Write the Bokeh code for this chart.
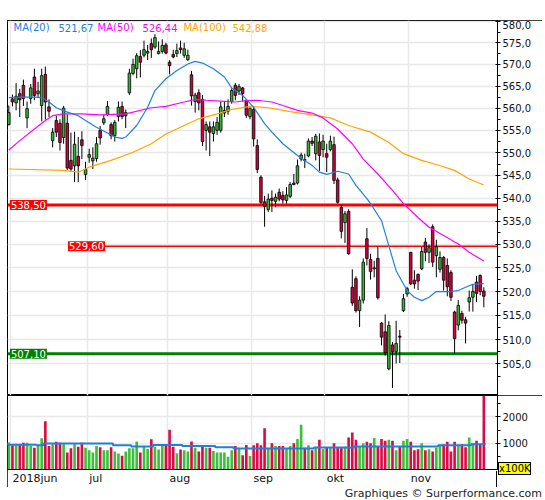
from bokeh.plotting import figure
from bokeh.models import (Range1d, FixedTicker, CustomJSTickFormatter, Label, Grid, Div)
from bokeh.layouts import column
from bokeh.embed import file_html
from bokeh.resources import INLINE

# ---------------- data ----------------
opens = [556.3, 562.1, 561.2, 563.3, 565.2, 557.8, 562.2, 567.1, 563.3, 560.6,
         567.7, 560.3, 552.7, 557.2, 556.6, 553.4, 556.6, 548.3, 547.1, 549.2,
         552.9, 545.2, 549.0, 548.2, 548.7, 555.0, 556.7, 558.6, 556.3, 553.8,
         558.1, 560.4, 558.3, 563.5, 567.9, 569.0, 571.8, 572.1, 572.6, 574.8,
         574.0, 572.5, 573.0, 574.5, 570.5, 572.3, 572.5, 573.8, 572.1, 571.1,
         567.6, 561.5, 563.5, 562.0, 555.0, 555.8, 554.3, 555.0, 555.0, 558.9,
         559.3, 561.5, 565.2, 563.9, 564.6, 561.8, 558.1, 559.7, 551.6, 544.6,
         539.2, 537.5, 540.0, 539.3, 541.3, 540.6, 539.5, 540.4, 543.3, 543.3,
         548.6, 548.5, 549.3, 552.6, 549.8, 552.4, 550.7, 549.8, 550.7, 551.8,
         544.0, 538.0, 534.7, 537.1, 520.9, 522.7, 516.0, 518.2, 531.2, 526.8,
         524.8, 527.0, 513.4, 511.6, 504.0, 508.9, 507.5, 510.7, 516.0, 519.5,
         528.3, 522.4, 523.6, 524.8, 530.5, 528.3, 533.8, 527.6, 524.7, 527.2,
         525.5, 524.0, 515.7, 513.0, 515.4, 514.1, 517.8, 518.8, 522.0, 523.4,
         520.1]
highs = [560.6, 563.1, 565.7, 564.4, 566.5, 561.5, 565.5, 569.0, 566.0, 569.0,
         569.5, 562.0, 555.5, 558.3, 557.5, 560.5, 558.6, 554.5, 554.7, 553.5,
         554.8, 548.0, 550.9, 551.2, 553.5, 556.0, 558.5, 561.6, 556.8, 557.3,
         561.5, 561.5, 559.7, 569.0, 571.3, 572.6, 573.3, 575.5, 574.5, 576.0,
         577.0, 575.3, 575.8, 575.0, 571.0, 573.4, 574.8, 575.5, 575.0, 573.4,
         568.5, 563.5, 564.3, 563.0, 557.0, 557.0, 557.0, 558.0, 561.5, 561.5,
         562.0, 564.5, 565.7, 565.5, 564.8, 562.0, 560.5, 560.5, 553.0, 545.0,
         540.5, 541.0, 541.7, 541.0, 542.1, 541.5, 542.4, 543.5, 545.3, 548.5,
         550.0, 549.8, 553.2, 553.5, 554.2, 554.3, 554.0, 552.0, 553.8, 553.6,
         544.5, 538.6, 537.2, 537.6, 524.7, 523.2, 519.0, 527.0, 533.5, 528.0,
         526.5, 529.5, 513.6, 515.2, 513.8, 509.5, 513.9, 512.0, 519.5, 521.0,
         528.4, 524.5, 523.8, 529.5, 531.4, 530.0, 534.3, 531.0, 528.5, 527.5,
         527.0, 524.5, 516.0, 518.2, 516.0, 514.7, 520.2, 521.5, 523.3, 523.6,
         520.9]
lows = [556.1, 560.4, 559.5, 558.0, 560.5, 555.5, 561.0, 561.8, 562.5, 557.0,
        557.4, 558.0, 551.2, 553.5, 550.5, 552.0, 546.2, 545.8, 543.5, 543.5,
        548.6, 544.0, 547.8, 546.4, 548.0, 551.8, 556.2, 558.2, 553.0, 552.5,
        557.0, 557.5, 555.5, 563.0, 567.5, 566.8, 567.0, 571.6, 571.0, 571.5,
        573.6, 572.3, 572.5, 572.3, 567.7, 571.4, 571.7, 572.5, 571.5, 570.8,
        560.6, 559.0, 559.5, 551.5, 550.5, 549.3, 552.5, 554.0, 554.5, 558.0,
        558.5, 561.0, 561.8, 563.0, 561.5, 557.8, 557.5, 551.4, 545.5, 538.7,
        533.8, 537.0, 537.0, 538.0, 539.3, 538.8, 538.8, 540.0, 542.8, 543.0,
        548.1, 546.6, 549.0, 551.5, 548.3, 546.0, 549.0, 545.7, 550.3, 543.1,
        538.8, 531.3, 530.3, 527.8, 517.0, 515.6, 512.6, 517.5, 525.5, 522.5,
        523.0, 518.3, 508.8, 506.7, 503.7, 500.1, 505.1, 505.2, 515.7, 518.9,
        521.4, 520.6, 520.3, 524.5, 526.4, 526.0, 525.2, 523.0, 524.0, 520.2,
        519.0, 518.0, 507.1, 511.9, 513.3, 509.2, 515.8, 515.8, 517.8, 519.2,
        516.7]
closes = [559.0, 561.4, 562.7, 561.9, 562.2, 559.9, 564.6, 562.9, 563.9, 567.4,
          561.4, 559.3, 554.6, 554.6, 552.3, 560.0, 546.6, 546.4, 551.9, 547.1,
          551.6, 546.3, 549.6, 548.8, 552.0, 553.3, 557.6, 560.4, 553.8, 556.8,
          560.2, 558.1, 559.0, 568.0, 570.0, 572.0, 570.5, 573.4, 573.0, 573.4,
          576.2, 573.0, 574.4, 572.6, 569.7, 571.7, 573.2, 573.4, 573.6, 572.1,
          562.8, 563.0, 561.2, 552.5, 556.3, 554.6, 555.8, 556.8, 560.3, 559.5,
          560.4, 564.0, 562.9, 564.9, 563.3, 558.4, 559.9, 553.1, 546.3, 539.1,
          538.2, 539.8, 539.5, 540.2, 539.8, 539.6, 540.7, 543.0, 543.0, 547.1,
          549.5, 548.3, 552.6, 552.1, 553.7, 549.4, 552.6, 549.0, 552.6, 543.9,
          539.1, 532.8, 536.6, 528.0, 517.6, 516.0, 518.2, 526.2, 527.0, 524.2,
          525.0, 518.7, 510.5, 507.3, 512.9, 507.5, 509.2, 510.5, 518.5, 520.6,
          521.6, 521.6, 522.2, 528.5, 528.3, 529.3, 526.2, 529.5, 527.2, 522.4,
          521.0, 518.8, 510.2, 517.1, 514.0, 513.4, 518.7, 520.0, 519.6, 520.0,
          519.0]
volumes = [1027, 919, 973, 946, 1014, 1014, 892, 824, 932, 1189,
           1838, 892, 959, 1054, 1014, 959, 649, 811, 959, 865,
           1014, 824, 730, 649, 892, 851, 730, 730, 851, 689,
           608, 527, 689, 811, 811, 1068, 649, 878, 784, 1149,
           865, 757, 919, 919, 1514, 865, 622, 757, 730, 689,
           1068, 824, 689, 865, 824, 824, 703, 649, 649, 649,
           486, 730, 892, 824, 541, 932, 514, 919, 1000, 919,
           1568, 824, 1000, 892, 892, 892, 784, 892, 1000, 1162,
           1703, 824, 919, 730, 824, 1135, 784, 824, 824, 1000,
           824, 824, 865, 1216, 1405, 1135, 892, 1000, 1054, 1000,
           1203, 892, 1162, 1095, 1135, 1095, 730, 865, 1095, 1162,
           1054, 730, 770, 1000, 730, 770, 689, 824, 892, 959,
           1054, 689, 1054, 919, 959, 851, 1216, 1000, 1095, 959,
           3200]

ma20_idx = [0, 3, 7, 9, 11, 13, 16, 19, 21, 24, 27, 29, 31, 32, 35, 38, 40, 43, 46, 49,
            51, 53, 56, 59, 61, 64, 67, 70, 72, 75, 79, 83, 85, 87, 90, 93, 95, 98, 99,
            102, 104, 106, 109, 111, 113, 115, 117, 121, 123, 125, 127, 130]
ma20_val = [562.4, 562.5, 562.5, 562.4, 561.4, 560.1, 559.1, 558.3, 557.2, 555.7, 554.4,
            553.5, 553.2, 553.5, 556.1, 560.2, 564.0, 566.7, 568.6, 570.1, 570.7, 570.3,
            569.0, 567.1, 564.6, 562.9, 560.2, 556.5, 554.6, 552.0, 549.4, 547.2, 545.7,
            545.2, 545.9, 545.3, 542.8, 539.9, 538.8, 535.1, 529.7, 524.4, 520.2, 518.8,
            518.1, 518.8, 520.0, 520.0, 520.2, 520.9, 521.5, 521.67]
ma50_idx = [0, 3, 7, 10, 12, 15, 20, 25, 32, 39, 43, 48, 51, 54, 58, 62, 65, 68, 72, 75,
            79, 83, 86, 90, 94, 97, 101, 105, 108, 112, 115, 119, 123, 126, 130]
ma50_val = [550.6, 552.7, 555.3, 557.2, 558.3, 558.7, 558.7, 558.5, 558.7, 560.1, 560.4,
            561.4, 562.0, 561.8, 561.6, 561.4, 561.7, 561.8, 561.4, 560.6, 559.5, 558.9,
            557.8, 555.3, 552.0, 548.6, 545.3, 541.7, 538.8, 535.8, 533.7, 531.9, 530.1,
            528.3, 526.44]
ma100_idx = [0, 15, 19, 22, 28, 34, 39, 43, 48, 52, 57, 61, 66, 71, 77, 82, 88, 93, 99,
             104, 108, 113, 117, 122, 126, 130]
ma100_val = [546.4, 546.1, 545.7, 546.8, 548.3, 550.1, 552.0, 554.2, 556.1, 557.6, 558.7,
             559.7, 560.4, 560.1, 559.2, 558.6, 557.8, 556.1, 554.6, 552.3, 549.8, 548.3,
             547.4, 546.1, 544.2, 542.88]

vol_ma_start = [0, 8, 10, 29, 34, 40, 48, 57, 62, 84, 95, 118, 127]
vol_ma_val = [946, 919, 986, 919, 878, 932, 892, 851, 797, 838, 878, 919, 959]

month_start_idx = [0, 21, 43, 66, 86, 109]
month_labels = ["2018jun", "jul", "aug", "sep", "okt", "nov"]

price_ticks = [505, 510, 515, 520, 525, 530, 535, 540, 545, 550, 555, 560, 565, 570, 575, 580]
vol_ticks = [1000, 2000]
vol_minor_ticks = [500, 1500, 2500]

levels = [538.5, 529.6, 507.1]
level_texts = ["538,50", "529,60", "507,10"]
legend_texts = ["MA(20)", "521,67", "MA(50)", "526,44", "MA(100)", "542,88"]

# ---------------- styling ----------------
FONT = "DejaVu Sans"
C_UP, C_DN = "#33b533", "#d4003c"
V_UP, V_DN = "#3cc03c", "#dc0a47"
C_MA20, C_MA50, C_MA100 = "#1f80dc", "#ff00ff", "#ffa500"
GRID = "#e8e8e8"
PX_PER_DAY = 3.654

n = len(closes)
idx = list(range(n))
up = [c >= o for o, c in zip(opens, closes)]
body_top = [max(o, c) for o, c in zip(opens, closes)]
body_bot = [min(o, c) for o, c in zip(opens, closes)]
body_col = [C_UP if u else C_DN for u in up]
vol_col = [V_UP if u else V_DN for u in up]
month_pos = [m + 0.45 for m in month_start_idx]

# axis labels are centred by Bokeh; shift each so its left edge sits just right of its gridline
CHAR_W = {"0": 7.0, "1": 7.0, "2": 7.0, "8": 7.0, "j": 3.05, "u": 6.97, "n": 6.97,
          "l": 3.05, "a": 6.74, "g": 6.97, "s": 5.73, "e": 6.77, "p": 6.97, "o": 6.73,
          "k": 6.37, "t": 4.31, "v": 6.51}
label_w = [sum(CHAR_W.get(ch, 6.5) for ch in lab) for lab in month_labels]
label_pos = [p + (2.0 + w / 2) / PX_PER_DAY for p, w in zip(month_pos, label_w)]

xr = Range1d(-0.356, 133.74)
box = {"outline": "1px solid #000", "outline-offset": "-1px"}

# ---------------- price panel ----------------
pA = figure(width=535, height=375, x_range=xr, y_range=Range1d(498.6, 580.2),
            y_axis_type="log", y_axis_location="right", x_axis_location=None,
            output_backend="svg", toolbar_location=None, margin=(20, 0, 0, 7),
            min_border_left=0, min_border_right=45, min_border_top=0, min_border_bottom=0,
            outline_line_color="black", styles=box)
ya = pA.yaxis[0]
ya.ticker = FixedTicker(ticks=price_ticks, minor_ticks=[t - 2.5 for t in price_ticks])
ya.formatter = CustomJSTickFormatter(code="return tick.toFixed(1).replace('.', ',');")
ya.major_label_text_font = FONT
ya.major_label_text_font_size = "10px"
ya.major_label_text_color = "#111111"
ya.major_tick_in = 2
ya.major_tick_out = 3
ya.minor_tick_in = 0
ya.minor_tick_out = 3
ya.major_label_standoff = 2
ya.axis_line_color = "black"
for g in pA.ygrid:
    g.grid_line_color = GRID
    g.grid_line_width = 1.5
for g in pA.xgrid:
    g.visible = False
pA.add_layout(Grid(dimension=0, ticker=FixedTicker(ticks=month_pos),
                   grid_line_color=GRID, grid_line_width=1.5))

# support / resistance lines
pA.segment(x0=[xr.start, 20.0, xr.start], y0=levels, x1=[xr.end] * 3, y1=levels,
           line_color=["#ff0000", "#ff0000", "#008000"], line_width=[3, 1.3, 3])

# candles
pA.segment(x0=idx, y0=lows, x1=idx, y1=highs, line_color="black", line_width=1)
pA.vbar(x=idx, width=0.7, top=body_top, bottom=body_bot, fill_color=body_col,
        line_color="black", line_width=0.8)

# moving averages
pA.line(ma100_idx, ma100_val, line_color=C_MA100, line_width=1.2)
pA.line(ma50_idx, ma50_val, line_color=C_MA50, line_width=1.2)
pA.line(ma20_idx, ma20_val, line_color=C_MA20, line_width=1.2)

# level labels
lvl_x = [0.3, 16.2, 0.3]
lvl_bg = ["#ff0000", "#ff0000", "#008000"]
for x, y, t, bg in zip(lvl_x, levels, level_texts, lvl_bg):
    pA.add_layout(Label(x=x, y=y, text=t, text_color="white", text_font=FONT,
                        text_font_size="10px", text_baseline="middle", text_align="left",
                        background_fill_color=bg, padding=1))

# legend row
leg_x = [1.3, 13.6, 24.3, 36.6, 47.8, 61.2]
leg_c = [C_MA20, C_MA20, C_MA50, C_MA50, C_MA100, C_MA100]
for x, t, c in zip(leg_x, legend_texts, leg_c):
    pA.add_layout(Label(x=x, y=578.56, text=t, text_color=c, text_font=FONT,
                        text_font_size="10px", text_baseline="middle", text_align="left"))

# ---------------- volume panel ----------------
pB = figure(width=535, height=92, x_range=xr, y_range=Range1d(0, 2815),
            y_axis_location="right", output_backend="svg", toolbar_location=None,
            margin=(0, 0, 0, 7),
            min_border_left=0, min_border_right=45, min_border_top=0, min_border_bottom=16,
            outline_line_color="black", styles=box)
pB.vbar(x=idx, top=volumes, width=0.72, fill_color=vol_col, line_color=None)
step_x = [s - 0.5 for s in vol_ma_start] + [n - 0.5]
step_y = vol_ma_val + [vol_ma_val[-1]]
pB.step(step_x, step_y, mode="after", line_color=C_MA20, line_width=2)

yb = pB.yaxis[0]
yb.ticker = FixedTicker(ticks=vol_ticks, minor_ticks=vol_minor_ticks)
yb.major_label_text_font = FONT
yb.major_label_text_font_size = "10px"
yb.major_label_text_color = "#111111"
yb.major_tick_in = 2
yb.major_tick_out = 3
yb.minor_tick_in = 0
yb.minor_tick_out = 3
yb.major_label_standoff = 2
yb.axis_line_color = "black"

xb = pB.xaxis[0]
xb.ticker = FixedTicker(ticks=label_pos, minor_ticks=[])
xb.formatter = CustomJSTickFormatter(args=dict(pos=label_pos, labels=month_labels), code="""
for (let k = 0; k < pos.length; k++) { if (Math.abs(pos[k] - tick) < 0.01) return labels[k]; }
return "";
""")
xb.major_label_text_font = FONT
xb.major_label_text_font_size = "11px"
xb.major_label_text_color = "#111111"
xb.major_tick_in = 0
xb.major_tick_out = 0
xb.major_label_standoff = 2
xb.axis_line_color = "black"
for g in pB.xgrid:
    g.ticker = FixedTicker(ticks=month_pos)
    g.grid_line_color = GRID
    g.grid_line_width = 1.5
for g in pB.ygrid:
    g.grid_line_color = GRID
    g.grid_line_width = 1.5

footer = Div(text="Graphiques © Surperformance.com", width=535, height=13,
             margin=(0, 0, 0, 7),
             styles={"text-align": "right", "font-family": "DejaVu Sans, sans-serif",
                     "font-size": "11px", "color": "#222222", "line-height": "13px"})

unit_box = Div(text="x100K", width=33, height=13, margin=0,
               styles={"position": "absolute", "left": "498px", "top": "462px",
                       "background-color": "#ffff00", "border": "1px solid #000",
                       "box-sizing": "border-box", "font-family": "DejaVu Sans, sans-serif",
                       "font-size": "10px", "line-height": "11px", "text-align": "center",
                       "color": "#000"})
strip_rule = Div(text="", width=1, height=16, margin=0,
                 styles={"position": "absolute", "left": "496px", "top": "471px",
                         "background-color": "#000"})

layout = column(pA, pB, footer, strip_rule, unit_box, spacing=0)
open("out.html", "w").write(file_html(layout, INLINE))
